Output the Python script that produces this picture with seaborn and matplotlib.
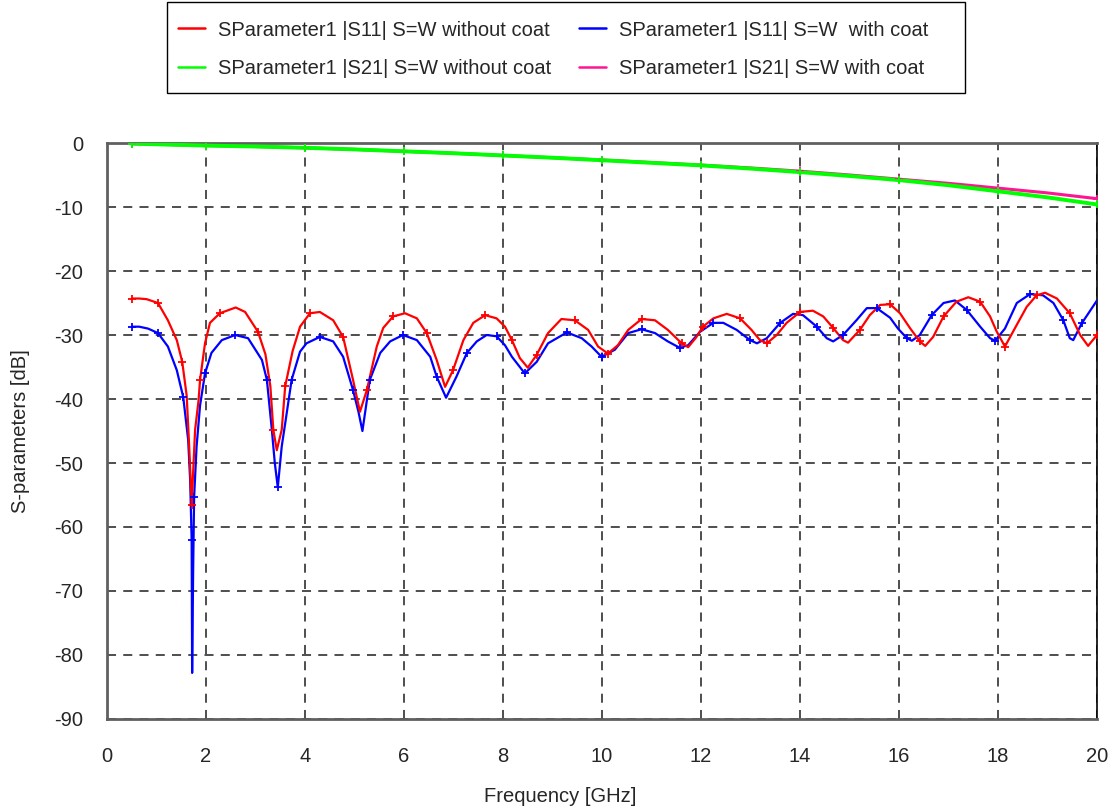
import matplotlib
matplotlib.use("Agg")
import matplotlib.pyplot as plt
from matplotlib.patches import Rectangle
from matplotlib.lines import Line2D
import seaborn as sns
import pandas as pd

# ---------------- data ----------------
s11_nocoat_f = [0.5, 0.65, 0.8, 1.03, 1.23, 1.41, 1.52, 1.61, 1.66, 1.71, 1.78, 1.85, 1.88,
                1.98, 2.08, 2.28, 2.6, 2.79, 3.05, 3.2, 3.3, 3.36, 3.43, 3.53, 3.6, 3.75,
                3.9, 4.1, 4.3, 4.57, 4.77, 4.97, 5.11, 5.25, 5.45, 5.58, 5.78, 6.02, 6.26,
                6.46, 6.66, 6.83, 6.99, 7.2, 7.4, 7.64, 7.87, 8.04, 8.18, 8.34, 8.5, 8.68,
                8.91, 9.18, 9.45, 9.72, 9.92, 10.12, 10.32, 10.53, 10.8, 11.07, 11.33,
                11.61, 11.74, 11.9, 12.04, 12.25, 12.52, 12.79, 13.02, 13.19, 13.33, 13.53,
                13.73, 14.0, 14.26, 14.47, 14.67, 14.87, 14.97, 15.21, 15.41, 15.62, 15.82,
                16.02, 16.22, 16.42, 16.53, 16.69, 16.9, 17.16, 17.4, 17.64, 17.84, 17.97,
                18.14, 18.38, 18.58, 18.78, 18.95, 19.19, 19.45, 19.66, 19.82, 20.0]
s11_nocoat_db = [-24.3, -24.3, -24.4, -25.0, -27.7, -30.8, -34.2, -39.5, -47.4, -56.5, -44.8,
                 -40.2, -37.0, -31.3, -28.1, -26.6, -25.7, -26.4, -29.5, -33.0, -38.0, -44.8,
                 -48.0, -44.8, -38.0, -32.5, -28.7, -26.6, -26.4, -27.7, -30.3, -37.0, -42.0,
                 -38.6, -31.8, -28.9, -27.1, -26.6, -27.4, -29.7, -33.9, -38.1, -35.5, -30.8,
                 -28.1, -26.9, -27.4, -28.7, -30.8, -33.6, -35.1, -33.1, -29.7, -27.5, -27.7,
                 -29.2, -31.8, -32.9, -31.6, -29.2, -27.5, -27.7, -29.2, -31.3, -31.9, -30.4,
                 -28.7, -27.4, -26.7, -27.4, -29.2, -30.8, -31.3, -30.0, -28.1, -26.4, -26.2,
                 -27.1, -28.9, -30.8, -31.2, -29.2, -26.9, -25.3, -25.2, -26.6, -28.9, -31.0,
                 -31.7, -30.3, -27.1, -24.8, -24.1, -24.8, -27.1, -29.4, -31.8, -28.4, -25.6,
                 -23.8, -23.4, -24.3, -26.6, -30.0, -31.7, -30.0]

s11_coat_f = [0.5, 0.65, 0.83, 1.03, 1.23, 1.41, 1.54, 1.64, 1.68, 1.71, 1.72, 1.74, 1.76,
              1.81, 1.88, 1.98, 2.11, 2.32, 2.59, 2.85, 3.13, 3.23, 3.33, 3.39, 3.45, 3.53,
              3.6, 3.73, 3.9, 4.03, 4.3, 4.57, 4.77, 4.97, 5.08, 5.16, 5.31, 5.52, 5.72,
              5.98, 6.26, 6.53, 6.66, 6.85, 7.06, 7.27, 7.47, 7.67, 7.87, 8.04, 8.18, 8.44,
              8.68, 8.91, 9.29, 9.59, 9.79, 9.99, 10.26, 10.53, 10.8, 11.07, 11.33, 11.57,
              11.74, 11.98, 12.25, 12.45, 12.72, 12.99, 13.13, 13.33, 13.6, 13.86, 14.06,
              14.34, 14.54, 14.67, 14.87, 15.14, 15.35, 15.55, 15.82, 15.98, 16.16, 16.26,
              16.42, 16.66, 16.9, 17.13, 17.37, 17.64, 17.84, 17.94, 18.14, 18.38, 18.65,
              18.91, 19.12, 19.32, 19.45, 19.52, 19.69, 20.0]
s11_coat_db = [-28.7, -28.7, -29.0, -29.7, -31.8, -35.5, -39.7, -46.4, -52.7, -62.0, -82.8,
               -67.0, -55.3, -47.4, -41.0, -36.0, -32.8, -30.8, -30.0, -30.5, -33.9, -37.0,
               -44.8, -50.0, -53.8, -47.4, -43.8, -37.0, -32.6, -31.3, -30.3, -31.0, -33.4,
               -38.6, -42.0, -45.0, -37.0, -32.8, -31.0, -30.0, -30.8, -33.4, -36.5, -39.8,
               -36.5, -32.8, -31.0, -30.0, -30.2, -31.6, -33.4, -36.0, -34.2, -31.3, -29.6,
               -30.5, -31.8, -33.4, -32.3, -29.7, -29.1, -29.7, -31.0, -32.0, -31.6, -29.5,
               -28.1, -28.1, -29.2, -30.8, -31.3, -30.5, -28.1, -26.7, -26.9, -28.7, -30.5,
               -31.0, -30.0, -27.7, -25.8, -25.8, -27.3, -29.0, -30.5, -30.9, -30.0, -26.9,
               -25.0, -24.6, -26.1, -28.7, -30.5, -30.9, -29.0, -25.0, -23.6, -23.8, -25.0,
               -27.7, -30.5, -30.8, -28.2, -24.6]

s21_f = [0.5, 1, 2, 3, 4, 5, 6, 7, 8, 9, 10, 11, 12, 13, 14, 15, 16, 17, 18, 19, 20]
s21_nocoat_db = [-0.1, -0.2, -0.4, -0.55, -0.75, -1.0, -1.3, -1.6, -1.95, -2.3, -2.7, -3.1,
                 -3.5, -4.0, -4.55, -5.15, -5.8, -6.6, -7.55, -8.5, -9.6]
s21_coat_db = [-0.1, -0.2, -0.4, -0.55, -0.75, -1.0, -1.3, -1.6, -1.95, -2.3, -2.65, -3.05,
               -3.45, -3.9, -4.4, -5.0, -5.65, -6.3, -7.05, -7.8, -8.7]

labels = ["SParameter1 |S11| S=W without coat",
          "SParameter1 |S11| S=W  with coat",
          "SParameter1 |S21| S=W without coat",
          "SParameter1 |S21| S=W with coat"]
colors = ["#ff0000", "#0000ff", "#00ff00", "#ff1493"]

x_ticks = list(range(0, 21, 2))
y_ticks = list(range(-90, 1, 10))

# ---------------- style ----------------
sns.set_style("white")
plt.rcParams['font.family'] = ['Liberation Sans', 'DejaVu Sans']
plt.rcParams['axes.unicode_minus'] = False
FS = 14.5

fig = plt.figure(figsize=(11.17, 8.11), dpi=100)
ax = fig.add_axes([107/1117, 1 - 719/811, 990/1117, 576/811])


def draw(f, v, color, label, lw, me):
    df = pd.DataFrame({"f": f, "v": v})
    sns.lineplot(data=df, x="f", y="v", ax=ax, color=color, label=label, lw=lw,
                 estimator=None, sort=False, legend=False, zorder=3)
    sns.scatterplot(data=df.iloc[::me], x="f", y="v", ax=ax, color=color, marker="+",
                    s=40, linewidth=1.3, legend=False, zorder=4)


draw(s21_f, s21_coat_db, colors[3], labels[3], 2.2, 2)
draw(s21_f, s21_nocoat_db, colors[2], labels[2], 2.8, 2)
draw(s11_coat_f, s11_coat_db, colors[1], labels[1], 1.6, 3)
draw(s11_nocoat_f, s11_nocoat_db, colors[0], labels[0], 1.6, 3)

ax.set_xlim(0, 20)
ax.set_ylim(-90, 0)
ax.set_xticks(x_ticks)
ax.set_yticks(y_ticks)
ax.tick_params(axis='both', length=0, labelsize=FS)
ax.tick_params(axis='x', pad=20)
ax.tick_params(axis='y', pad=17)

ax.grid(True, color="#404040", linestyle=(0, (5, 4)), linewidth=1.3)
ax.set_axisbelow(True)
for s in ["left", "top", "bottom"]:
    ax.spines[s].set_color("#606060")
    ax.spines[s].set_linewidth(2)
ax.spines["right"].set_color("#000000")
ax.spines["right"].set_linewidth(1.2)

ax.set_xlabel("Frequency [GHz]", fontsize=FS)
ax.set_ylabel("S-parameters [dB]", fontsize=FS)
ax.xaxis.set_label_coords(0.458, -0.118)
ax.yaxis.set_label_coords(-0.078, 0.5)

# legend
order = [0, 2, 1, 3]
hs = [Line2D([], [], color=colors[i], lw=1.8) for i in order]
fig.legend(hs, [labels[i] for i in order], loc="upper left",
           bbox_to_anchor=(178/1117, 1 - 20.5/811),
           ncol=2, frameon=False, fontsize=FS, borderpad=0, handlelength=1.35,
           handletextpad=0.65, columnspacing=1.35, labelspacing=0.95,
           borderaxespad=0)
fig.patches.append(Rectangle((167/1117, 1 - 93/811), 798/1117, 91/811,
                             transform=fig.transFigure, fill=False,
                             edgecolor="#000000", linewidth=1.0))

fig.savefig("out.png", dpi=100)
